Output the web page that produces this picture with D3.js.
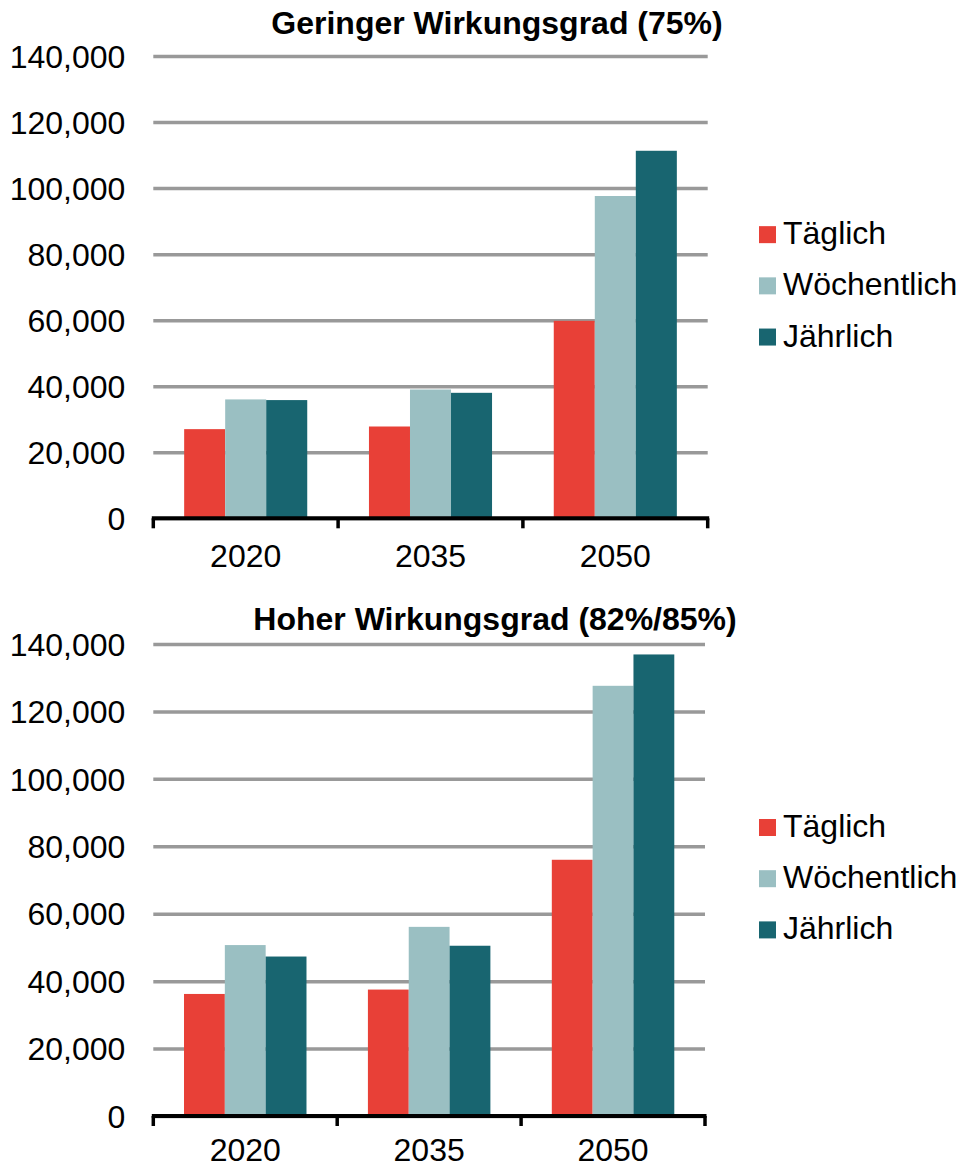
<!DOCTYPE html>
<html>
<head>
<meta charset="utf-8">
<script src="https://cdn.jsdelivr.net/npm/d3@7"></script>
<style>
  body { margin: 0; background: #fff; }
  svg { display: block; font-family: "Liberation Sans", Arial, sans-serif; }
</style>
</head>
<body>
<svg width="959" height="1169"></svg>
<script>
var years = ["2020", "2035", "2050"];
var series = ["Täglich", "Wöchentlich", "Jährlich"];
var colors = ["#E84037", "#9ABFC2", "#186570"];
var yTicks = [0, 20000, 40000, 60000, 80000, 100000, 120000, 140000];

// Geringer Wirkungsgrad (75%)
var lowTaeglich = [27000, 27800, 59800];
var lowWoechentlich = [36000, 39000, 97600];
var lowJaehrlich = [35800, 38000, 111300];

// Hoher Wirkungsgrad (82%/85%)
var highTaeglich = [36200, 37500, 76000];
var highWoechentlich = [50700, 56100, 127600];
var highJaehrlich = [47300, 50500, 136900];

var svg = d3.select("svg");

function drawChart(cfg) {
  var g = svg.append("g");
  var values = [cfg.taeglich, cfg.woechentlich, cfg.jaehrlich];
  var rows = years.map(function(y, i) {
    return { year: y, vals: series.map(function(s, j) { return { key: s, idx: j, value: values[j][i] }; }) };
  });

  var x0 = d3.scaleBand()
        .domain(years)
        .range([cfg.left, cfg.right])
        .paddingInner(0.334)
        .paddingOuter(0.167);
  var x1 = d3.scaleBand()
        .domain(series)
        .range([0, x0.bandwidth()]);
  var y = d3.scaleLinear()
        .domain([0, 140000])
        .range([cfg.bottom, cfg.top]);

  // gridlines + y labels
  var yAxis = g.append("g")
        .attr("transform", "translate(" + cfg.left + ",0)")
        .call(d3.axisLeft(y)
          .tickValues(yTicks)
          .tickFormat(d3.format(","))
          .tickSizeInner(-(cfg.right - cfg.left))
          .tickSizeOuter(0)
          .tickPadding(28));
  yAxis.select(".domain").remove();
  yAxis.selectAll("line")
    .attr("stroke", "#999")
    .attr("stroke-width", 3.5);
  yAxis.selectAll("text")
    .attr("fill", "#000")
    .style("font-size", "32px")
    .attr("dy", "0.35em");

  // bars
  g.append("g").selectAll("g")
    .data(rows)
    .enter().append("g")
    .attr("transform", function(d) { return "translate(" + x0(d.year) + ",0)"; })
    .selectAll("rect")
    .data(function(d) { return d.vals; })
    .enter().append("rect")
    .attr("x", function(d) { return x1(d.key); })
    .attr("width", x1.bandwidth())
    .attr("y", function(d) { return y(d.value); })
    .attr("height", function(d) { return y(0) - y(d.value); })
    .attr("fill", function(d) { return colors[d.idx]; });

  // x axis line and ticks between categories
  var step = x0.step();
  var bounds = d3.range(years.length + 1).map(function(i) { return cfg.left + i * step; });
  g.append("line")
    .attr("x1", cfg.left - 1.5).attr("x2", cfg.right + 1.5)
    .attr("y1", y(0)).attr("y2", y(0))
    .attr("stroke", "#000").attr("stroke-width", 4);
  g.append("g").selectAll("line")
    .data(bounds)
    .enter().append("line")
    .attr("x1", function(d) { return d; })
    .attr("x2", function(d) { return d; })
    .attr("y1", y(0))
    .attr("y2", y(0) + 10)
    .attr("stroke", "#000")
    .attr("stroke-width", 3.5);

  g.append("g").selectAll("text")
    .data(years)
    .enter().append("text")
    .attr("x", function(d) { return x0(d) + x0.bandwidth() / 2; })
    .attr("y", y(0) + cfg.labelOffset)
    .attr("text-anchor", "middle")
    .style("font-size", "32px")
    .text(function(d) { return d; });

  // title
  g.append("text")
    .attr("x", cfg.titleX)
    .attr("y", cfg.titleY)
    .attr("text-anchor", "middle")
    .style("font-size", "32px")
    .style("font-weight", "bold")
    .text(cfg.title);

  // legend, centered on plot area
  var mid = (cfg.top + cfg.bottom) / 2;
  var lg = g.append("g").selectAll("g")
        .data(series)
        .enter().append("g")
        .attr("transform", function(d, i) { return "translate(759," + (mid - 61 + i * 51.2) + ")"; });
  lg.append("rect")
    .attr("width", 17).attr("height", 17)
    .attr("fill", function(d, i) { return colors[i]; });
  lg.append("text")
    .attr("x", 24)
    .attr("y", 18)
    .style("font-size", "32px")
    .text(function(d) { return d; });
}

drawChart({
  title: "Geringer Wirkungsgrad (75%)",
  titleX: 497, titleY: 33.5, labelOffset: 48.5,
  left: 153.3, right: 707.7, top: 56, bottom: 518.3,
  taeglich: lowTaeglich, woechentlich: lowWoechentlich, jaehrlich: lowJaehrlich
});

drawChart({
  title: "Hoher Wirkungsgrad (82%/85%)",
  titleX: 495, titleY: 630, labelOffset: 45,
  left: 153.3, right: 705, top: 644, bottom: 1116,
  taeglich: highTaeglich, woechentlich: highWoechentlich, jaehrlich: highJaehrlich
});
</script>
</body>
</html>
